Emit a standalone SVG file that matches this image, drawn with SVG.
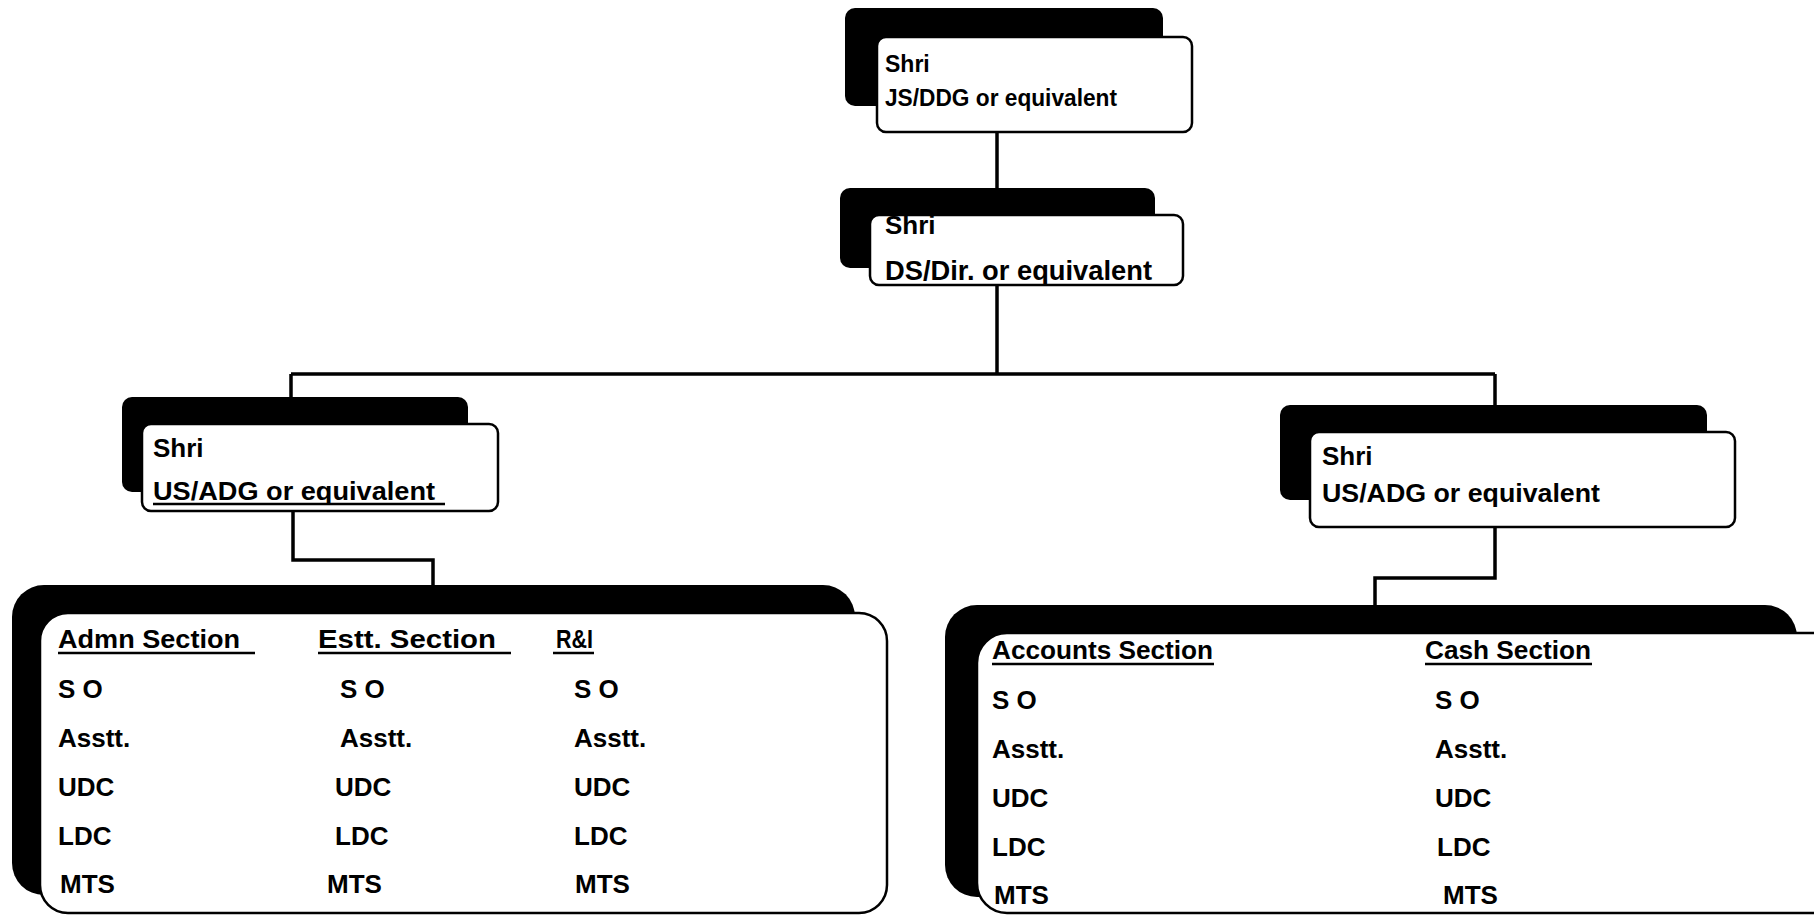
<svg xmlns="http://www.w3.org/2000/svg" width="1814" height="916" viewBox="0 0 1814 916">
<style>
.sh{fill:#000}
.bx{fill:#fff;stroke:#000;stroke-width:2.5}
.t{font-family:"Liberation Sans",Arial,sans-serif;font-weight:bold;fill:#000}
.r{font-size:26px}
.ul{stroke:#000;stroke-width:2.5}
.c{fill:none;stroke:#000;stroke-width:3.5}
</style>
<rect width="1814" height="916" fill="#fff"/>
<g id="connectors">
<path class="c" d="M997 132V190"/>
<path class="c" d="M997 285V374M291 374H1495M291 374V398M1495 374V406"/>
<path class="c" d="M293 510V560H433V585"/>
<path class="c" d="M1495 527V578H1375V607"/>
</g>
<g id="node-jsddg">
<rect class="sh" x="845" y="8" width="318" height="98" rx="10"/>
<rect class="bx" x="877" y="37" width="315" height="95" rx="9"/>
<text class="t" x="885" y="72" font-size="23">Shri</text>
<text class="t" x="885" y="106" font-size="23" textLength="232" lengthAdjust="spacingAndGlyphs">JS/DDG or equivalent</text>
</g>
<g id="node-dsdir">
<rect class="sh" x="840" y="188" width="315" height="80" rx="10"/>
<rect class="bx" x="870" y="215" width="313" height="70" rx="9"/>
<text class="t" x="885" y="234" font-size="26">Shri</text>
<text class="t" x="885" y="280" font-size="27" textLength="267" lengthAdjust="spacingAndGlyphs">DS/Dir. or equivalent</text>
</g>
<g id="node-usadg-left">
<rect class="sh" x="122" y="397" width="346" height="95" rx="10"/>
<rect class="bx" x="142" y="424" width="356" height="87" rx="9"/>
<text class="t" x="153" y="457" font-size="26">Shri</text>
<text class="t" x="153" y="500" font-size="26" textLength="282" lengthAdjust="spacingAndGlyphs">US/ADG or equivalent</text>
<line class="ul" x1="153" y1="504" x2="445" y2="504"/>
</g>
<g id="node-usadg-right">
<rect class="sh" x="1280" y="405" width="427" height="95" rx="10"/>
<rect class="bx" x="1310" y="432" width="425" height="95" rx="9"/>
<text class="t" x="1322" y="465" font-size="26">Shri</text>
<text class="t" x="1322" y="502" font-size="26" textLength="278" lengthAdjust="spacingAndGlyphs">US/ADG or equivalent</text>
</g>
<g id="node-sections-left">
<rect class="sh" x="12" y="585" width="843" height="310" rx="32"/>
<rect class="bx" x="40" y="613" width="847" height="300" rx="28"/>
<text class="t r" x="58" y="648" textLength="182" lengthAdjust="spacingAndGlyphs">Admn Section</text>
<line class="ul" x1="58" y1="653" x2="255" y2="653"/>
<text class="t r" x="318" y="648" textLength="178" lengthAdjust="spacingAndGlyphs">Estt. Section</text>
<line class="ul" x1="318" y1="653" x2="511" y2="653"/>
<text class="t r" x="556" y="648" textLength="37" lengthAdjust="spacingAndGlyphs">R&amp;I</text>
<line class="ul" x1="553" y1="653" x2="594" y2="653"/>
<text class="t r" x="58" y="698">S O</text>
<text class="t r" x="58" y="747">Asstt.</text>
<text class="t r" x="58" y="796">UDC</text>
<text class="t r" x="58" y="845">LDC</text>
<text class="t r" x="60" y="893">MTS</text>
<text class="t r" x="340" y="698">S O</text>
<text class="t r" x="340" y="747">Asstt.</text>
<text class="t r" x="335" y="796">UDC</text>
<text class="t r" x="335" y="845">LDC</text>
<text class="t r" x="327" y="893">MTS</text>
<text class="t r" x="574" y="698">S O</text>
<text class="t r" x="574" y="747">Asstt.</text>
<text class="t r" x="574" y="796">UDC</text>
<text class="t r" x="574" y="845">LDC</text>
<text class="t r" x="575" y="893">MTS</text>
</g>
<g id="node-sections-right">
<rect class="sh" x="945" y="605" width="852" height="292" rx="32"/>
<rect class="bx" x="977" y="633" width="880" height="280" rx="30"/>
<text class="t r" x="992" y="659" textLength="221" lengthAdjust="spacingAndGlyphs">Accounts Section</text>
<line class="ul" x1="992" y1="664" x2="1214" y2="664"/>
<text class="t r" x="1425" y="659" textLength="166" lengthAdjust="spacingAndGlyphs">Cash Section</text>
<line class="ul" x1="1425" y1="664" x2="1592" y2="664"/>
<text class="t r" x="992" y="709">S O</text>
<text class="t r" x="992" y="758">Asstt.</text>
<text class="t r" x="992" y="807">UDC</text>
<text class="t r" x="992" y="856">LDC</text>
<text class="t r" x="994" y="904">MTS</text>
<text class="t r" x="1435" y="709">S O</text>
<text class="t r" x="1435" y="758">Asstt.</text>
<text class="t r" x="1435" y="807">UDC</text>
<text class="t r" x="1437" y="856">LDC</text>
<text class="t r" x="1443" y="904">MTS</text>
</g>
</svg>
